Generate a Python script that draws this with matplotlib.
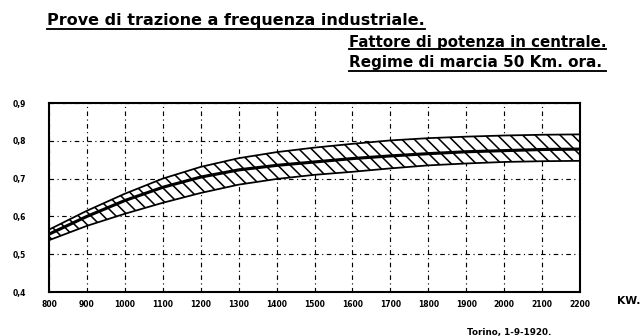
import matplotlib
matplotlib.use("Agg")
import matplotlib.pyplot as plt
from matplotlib.lines import Line2D

# Power output at the station (kW)
potenza_kw = [800, 900, 1000, 1100, 1200, 1300, 1400, 1500,
              1600, 1700, 1800, 1900, 2000, 2100, 2200]

# Power factor: upper limit, mean curve, lower limit
fp_massimo = [0.565, 0.615, 0.660, 0.700, 0.731, 0.754, 0.770, 0.782,
              0.792, 0.801, 0.807, 0.811, 0.814, 0.816, 0.817]
fp_medio = [0.553, 0.600, 0.642, 0.677, 0.704, 0.723, 0.735, 0.744,
            0.753, 0.760, 0.766, 0.771, 0.774, 0.777, 0.778]
fp_minimo = [0.537, 0.575, 0.607, 0.636, 0.662, 0.684, 0.699, 0.710,
             0.718, 0.727, 0.735, 0.740, 0.744, 0.746, 0.747]

x_ticks = list(range(800, 2201, 100))
x_labels = [str(v) for v in x_ticks]
y_ticks = [0.4, 0.5, 0.6, 0.7, 0.8, 0.9]
y_labels = ["0,4", "0,5", "0,6", "0,7", "0,8", "0,9"]

W, H, DPI = 642, 336, 150
plt.rcParams["hatch.linewidth"] = 0.75
plt.rcParams["font.family"] = ["DejaVu Sans"]

fig = plt.figure(figsize=(W / DPI, H / DPI), dpi=DPI)
fig.patch.set_facecolor("white")


def fx(px):
    return px / W


def fy(py):
    return 1 - py / H


ax = fig.add_axes([fx(49), fy(292), fx(580) - fx(49), fy(103) - fy(292)])
ax.set_xlim(800, 2200)
ax.set_ylim(0.4, 0.9)

# Hatched band between the limits, bold mean curve
ax.fill_between(potenza_kw, fp_minimo, fp_massimo, facecolor="white",
                edgecolor="black", hatch="\\\\\\\\", linewidth=0, zorder=2)
ax.plot(potenza_kw, fp_massimo, color="black", lw=0.85, zorder=3)
ax.plot(potenza_kw, fp_minimo, color="black", lw=0.85, zorder=3)
ax.plot(potenza_kw, fp_medio, color="black", lw=1.5, zorder=3)

ax.set_xticks(x_ticks)
ax.set_xticklabels(x_labels)
ax.set_yticks(y_ticks)
ax.set_yticklabels(y_labels)
ax.grid(True, color="black", lw=0.55, linestyle=(0, (4, 3, 1, 3)), zorder=1)
ax.tick_params(axis="x", length=0, pad=4.0, labelsize=3.7)
ax.tick_params(axis="y", direction="in", length=2, width=0.5, pad=11,
               labelsize=3.7)
for lab in ax.get_xticklabels() + ax.get_yticklabels():
    lab.set_fontweight("bold")
for sp in ax.spines.values():
    sp.set_linewidth(1.0)
    sp.set_color("black")

# Headings with underlines
def underlined(x0, x1, yc, yline, text, size):
    fig.text(fx(x0), fy(yc), text, fontsize=size, ha="left", va="center",
             fontweight="bold")
    fig.add_artist(Line2D([fx(x0), fx(x1)], [fy(yline), fy(yline)],
                          color="black", lw=0.9, transform=fig.transFigure))


underlined(47, 425, 21, 29, "Prove di trazione a frequenza industriale.", 7.7)
underlined(349, 606, 42, 49, "Fattore di potenza in centrale.", 7.2)
underlined(349, 606, 63, 71, "Regime di marcia 50 Km. ora.", 7.3)

fig.text(fx(617), fy(301), "KW.", fontsize=5.2, fontweight="bold",
         ha="left", va="center")
fig.text(fx(467), fy(332), "Torino, 1-9-1920.", fontsize=4.2,
         fontweight="bold", ha="left", va="center")

fig.savefig("out.png", dpi=DPI, facecolor="white")
